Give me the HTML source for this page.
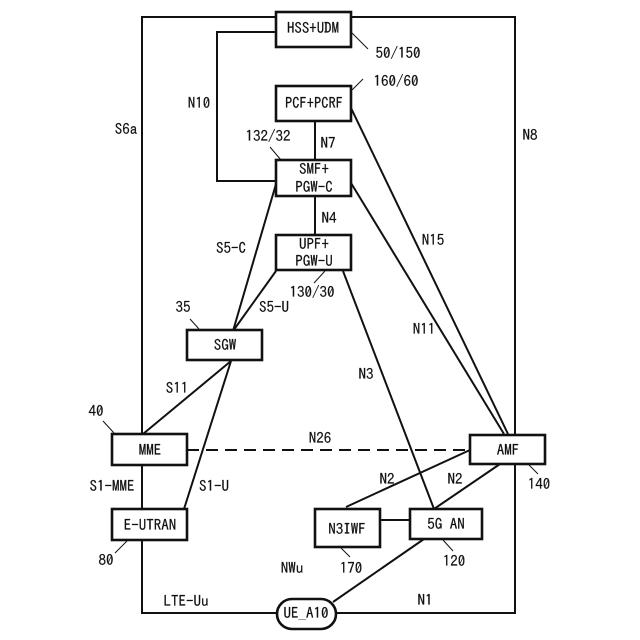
<!DOCTYPE html>
<html><head><meta charset="utf-8"><style>
html,body{margin:0;padding:0;background:#fff}
svg{display:block}
text{font-family:"IPAGothic","Liberation Sans",sans-serif;font-size:15px;fill:#111;text-anchor:middle;stroke:#111;stroke-width:.2}
</style></head><body>
<svg width="640" height="640" viewBox="0 0 640 640" xmlns="http://www.w3.org/2000/svg">
<rect width="640" height="640" fill="#fff"/>
<g fill="none" stroke="#111" stroke-width="2">
<rect x="142" y="17" width="373" height="596"/>
<polyline points="276,32 217,32 217,181 276,181"/>
<line x1="315" y1="121" x2="315" y2="160"/>
<line x1="315" y1="196" x2="315" y2="235"/>
<line x1="276" y1="184" x2="233" y2="331"/>
<line x1="276" y1="271" x2="233" y2="331"/>
<line x1="351" y1="108" x2="508" y2="434"/>
<line x1="351" y1="183" x2="504" y2="434"/>
<line x1="343" y1="271" x2="434" y2="509"/>
<line x1="231" y1="361" x2="143" y2="434"/>
<line x1="231" y1="361" x2="184" y2="509"/>
<line x1="187" y1="450" x2="470" y2="450" stroke-dasharray="12 7"/>
<line x1="470" y1="450" x2="346" y2="507"/>
<line x1="500" y1="464" x2="434" y2="509"/>
<line x1="380" y1="520" x2="410" y2="520"/>
<line x1="424" y1="539" x2="333" y2="602"/>
</g>
<g fill="#fff" stroke="#111" stroke-width="2.6">
<rect x="276" y="12" width="75" height="35"/>
<rect x="276" y="86" width="75" height="35"/>
<rect x="276" y="160" width="75" height="36"/>
<rect x="276" y="235" width="75" height="35"/>
<rect x="187" y="330" width="75" height="30"/>
<rect x="112" y="434" width="75" height="31"/>
<rect x="112" y="509" width="75" height="31"/>
<rect x="470" y="435" width="75" height="29"/>
<rect x="315" y="509" width="65" height="38"/>
<rect x="410" y="509" width="72" height="30"/>
<rect x="277" y="599" width="59" height="30" rx="15" ry="15"/>
</g>
<g fill="none" stroke="#111" stroke-width="1">
<line x1="352" y1="33" x2="368" y2="49"/>
<line x1="352" y1="90" x2="363" y2="79"/>
<line x1="281" y1="160" x2="270" y2="147"/>
<line x1="325" y1="271" x2="314" y2="283"/>
<line x1="199" y1="329" x2="190" y2="319"/>
<line x1="114" y1="433" x2="103" y2="421"/>
<line x1="127" y1="541" x2="115" y2="553"/>
<line x1="529" y1="465" x2="538" y2="474"/>
<line x1="341" y1="548" x2="350" y2="557"/>
<line x1="443" y1="540" x2="453" y2="551"/>
</g>
<g>
<text x="313" y="33" textLength="52" lengthAdjust="spacingAndGlyphs">HSS+UDM</text>
<text x="314" y="108" textLength="58" lengthAdjust="spacingAndGlyphs">PCF+PCRF</text>
<text x="314" y="174">SMF+</text>
<text x="314" y="192">PGW-C</text>
<text x="314" y="249">UPF+</text>
<text x="314" y="266">PGW-U</text>
<text x="225" y="350">SGW</text>
<text x="150" y="455">MME</text>
<text x="150" y="530">E-UTRAN</text>
<text x="508" y="455">AMF</text>
<text x="347" y="534">N3IWF</text>
<text x="446" y="529">5G AN</text>
<text x="306" y="618">UE_A10</text>
<text x="398" y="58">50/150</text>
<text x="396" y="86">160/60</text>
<text x="268" y="141">132/32</text>
<text x="312" y="297">130/30</text>
<text x="183" y="312">35</text>
<text x="96" y="416">40</text>
<text x="106" y="565">80</text>
<text x="539" y="489">140</text>
<text x="351" y="573">170</text>
<text x="454" y="566">120</text>
<text x="199" y="108">N10</text>
<text x="126" y="134">S6a</text>
<text x="530" y="140">N8</text>
<text x="328" y="148">N7</text>
<text x="329" y="223">N4</text>
<text x="231" y="253">S5-C</text>
<text x="274" y="312">S5-U</text>
<text x="433" y="245">N15</text>
<text x="424" y="334">N11</text>
<text x="366" y="379">N3</text>
<text x="177" y="393">S11</text>
<text x="320" y="443">N26</text>
<text x="387" y="484">N2</text>
<text x="455" y="484">N2</text>
<text x="112" y="491">S1-MME</text>
<text x="214" y="491">S1-U</text>
<text x="292" y="573">NWu</text>
<text x="186" y="606">LTE-Uu</text>
<text x="425" y="605">N1</text>
</g>
</svg>
</body></html>
